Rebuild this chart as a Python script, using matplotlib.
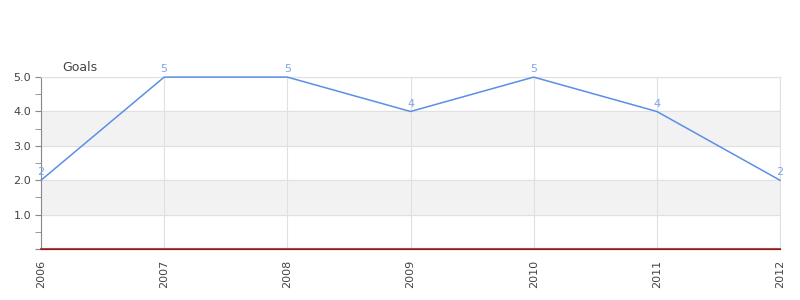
import matplotlib
matplotlib.use('Agg')
import matplotlib.pyplot as plt
from matplotlib.ticker import MultipleLocator

years = ['2006', '2007', '2008', '2009', '2010', '2011', '2012']
goals = [2, 5, 5, 4, 5, 4, 2]
y_ticks = [1.0, 2.0, 3.0, 4.0, 5.0]
y_labels = ['1.0', '2.0', '3.0', '4.0', '5.0']
bands = [(1, 2), (3, 4)]

fig = plt.figure(figsize=(8, 3), dpi=100)
ax = fig.add_axes([0.05125, 0.17, 0.92375, 0.573])

x = range(len(years))
for lo, hi in bands:
    ax.axhspan(lo, hi, color='#f2f2f2', zorder=0)

ax.plot(x, goals, color='#5b8fe6', linewidth=1.1, zorder=6, clip_on=False)
for xi, g in zip(x, goals):
    ax.text(xi, g + 0.08, str(g), color='#7fa6ea', fontsize=8,
            ha='center', va='bottom', zorder=7)

ax.set_xlim(0, len(years) - 1)
ax.set_ylim(0, 5)
ax.set_xticks(list(x))
ax.set_xticklabels(years, rotation=90, fontsize=8, color='#444444')
ax.set_yticks([0] + y_ticks)
ax.set_yticklabels([''] + y_labels, fontsize=8, color='#444444')
ax.yaxis.set_minor_locator(MultipleLocator(0.5))

ax.grid(True, which='major', color='#e0e0e0', linewidth=0.8, zorder=1)
ax.set_axisbelow(True)
ax.tick_params(axis='y', which='both', direction='out', length=4, color='#888888', pad=3)
ax.tick_params(axis='x', length=0, pad=8)

for side in ['top', 'right']:
    ax.spines[side].set_color('#e0e0e0')
    ax.spines[side].set_linewidth(0.8)
ax.spines['left'].set_color('#888888')
ax.spines['bottom'].set_color('#666666')
ax.spines['bottom'].set_linewidth(1.5)
ax.axhline(0, color='#cc0000', linewidth=0.8, zorder=5, clip_on=False)

fig.text(62 / 800, 1 - 67 / 300, 'Goals', fontsize=9, color='#444444', va='center')

fig.savefig('out.png', dpi=100)
